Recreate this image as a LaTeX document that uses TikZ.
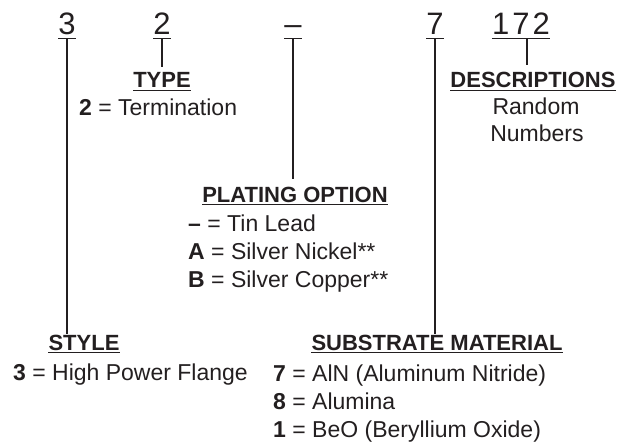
\documentclass[tikz,border=0pt]{standalone}
\usepackage{fontspec}
\setmainfont{Liberation Sans}
\usepackage{tikz}
\usetikzlibrary{positioning,calc}
\definecolor{ink}{HTML}{231F20}

\tikzset{
  code/.style={font=\fontsize{31}{31}\selectfont, inner sep=0pt, text depth=0pt, anchor=base, text=ink},
  head/.style={font=\bfseries\fontsize{22}{24}\selectfont, inner sep=0pt, text depth=0pt, anchor=base, text=ink},
  item/.style={font=\fontsize{23}{28}\selectfont, inner sep=0pt, anchor=base west, text=ink},
  note/.style={font=\fontsize{23}{28}\selectfont, inner sep=0pt, anchor=base, text=ink},
  uline/.style={draw=ink, line width=1.2pt},
  lead/.style={draw=ink, line width=1.8pt},
}

\begin{document}
\begin{tikzpicture}[x=1pt,y=-1pt]
  \useasboundingbox (0,0) rectangle (627,444);
  \node[code] (c3) at (67,35) {3};
  \node[code] (c2) at (162,35) {2};
  \node[code] (cp) at (293,35) {--};
  \node[code] (c7) at (435,35) {7};
  \node[code] (cd) at (521,35) {1\kern3pt7\kern3pt2};

  \node[head] (htype) at (162,88) {TYPE};
  \node[head] (hdesc) at (533,88) {DESCRIPTIONS};
  \node[head] (hplat) at (295,202) {PLATING OPTION};
  \node[head] (hstyle) at (84,350) {STYLE};
  \node[head] (hsubs) at (437,350) {SUBSTRATE MATERIAL};

  \foreach \c in {c3,c2,cp,c7,cd}{\draw[uline] ($(\c.south west)+(0,3)$) -- ($(\c.south east)+(0,3)$);}
  \foreach \h in {htype,hdesc,hplat,hstyle,hsubs}{\draw[uline] ($(\h.south west)+(0,2.5)$) -- ($(\h.south east)+(0,2.5)$);}

  \node[item] (type2) at (79,115) {\textbf{2} = Termination};
  \node[note] (rand) at (536,114) {Random};
  \node[note] (numb) at (537,142) {Numbers};
  \node[item] (platT) at (188,231) {\textbf{--} = Tin Lead};
  \node[item] (platA) at (188,259) {\textbf{A} = Silver Nickel**};
  \node[item] (platB) at (188,287) {\textbf{B} = Silver Copper**};
  \node[item] (style3) at (13,380) {\textbf{3} = High Power Flange};
  \node[item] (subs7) at (273,381) {\textbf{7} = AlN (Aluminum Nitride)};
  \node[item] (subs8) at (273,409) {\textbf{8} = Alumina};
  \node[item] (subs1) at (273,437) {\textbf{1} = BeO (Beryllium Oxide)};

  \draw[lead] ($(c3.south)+(0,3)$) -- (hstyle.north -| c3.south);
  \draw[lead] ($(c2.south)+(0,3)$) -- ($(htype.north)+(0,-6)$);
  \draw[lead] ($(cp.south)+(0,3)$) -- ($(hplat.north -| cp.south)+(0,-7)$);
  \draw[lead] ($(c7.south)+(0,3)$) -- (hsubs.north -| c7.south);
  \draw[lead] ($(cd.south)+(6,3)$) -- ($(hdesc.north -| cd.south)+(6,-7)$);
\end{tikzpicture}
\end{document}
